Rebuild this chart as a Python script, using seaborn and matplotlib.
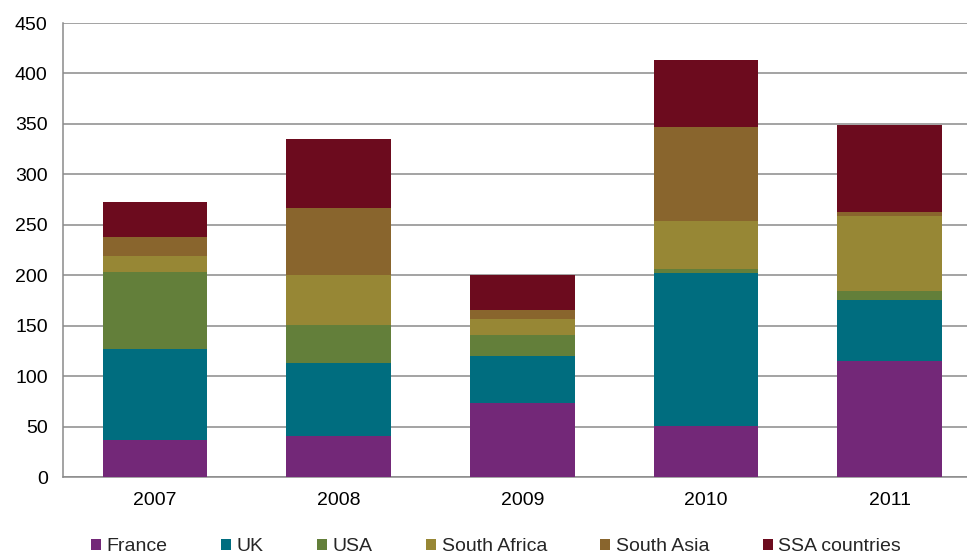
import numpy as np
import pandas as pd
import matplotlib
matplotlib.use("Agg")
import matplotlib.pyplot as plt
from matplotlib.patches import Patch
import seaborn as sns

years = ["2007", "2008", "2009", "2010", "2011"]
series = ["France", "UK", "USA", "South Africa", "South Asia", "SSA countries"]
france = [37, 41, 73, 51, 115]
uk = [90, 72, 47, 151, 60]
usa = [76, 38, 21, 4, 9]
south_africa = [16, 49, 16, 48, 75]
south_asia = [19, 67, 9, 93, 4]
ssa = [35, 68, 34, 66, 86]
colors = ["#732878", "#006D7F", "#637F3A", "#978735", "#89652D", "#6C0B1E"]

sns.set_style("white")
plt.rcParams["font.family"] = ["Liberation Sans", "DejaVu Sans"]

values = np.array([france, uk, usa, south_africa, south_asia, ssa])
cum = values.cumsum(axis=0)
df = pd.DataFrame(cum.T, columns=series)
df["year"] = years

fig = plt.figure(figsize=(9.67, 5.54), dpi=100)
ax = fig.add_axes([63 / 967, 1 - 477 / 554, (967 - 63) / 967, (477 - 23) / 554])

# layered cumulative bars, tallest first
for name, col in reversed(list(zip(series, colors))):
    sns.barplot(data=df, x="year", y=name, color=col, width=0.57,
                saturation=1, ax=ax, zorder=3, edgecolor="none", linewidth=0)

ax.set_ylim(0, 450)
ax.set_xlim(-0.5, 4.42)
ax.set_yticks(range(0, 451, 50))
ax.yaxis.grid(True, color="#8a8a8a", linewidth=1.1, zorder=0)
ax.set_axisbelow(True)
ax.set_xlabel("")
ax.set_ylabel("")
for s in ["top", "right"]:
    ax.spines[s].set_visible(False)
for s in ["left", "bottom"]:
    ax.spines[s].set_color("#8a8a8a")
    ax.spines[s].set_linewidth(1.1)
ax.tick_params(axis="both", length=0, labelsize=14, colors="black")
ax.tick_params(axis="y", pad=11)
ax.tick_params(axis="x", pad=11)

handles = [Patch(facecolor=c, edgecolor="none", label=n) for n, c in zip(series, colors)]
fig.legend(handles=handles, loc="center", bbox_to_anchor=(0.513, 0.013),
           ncol=6, frameon=False, fontsize=14, handlelength=0.5,
           handleheight=0.5, handletextpad=0.3, columnspacing=2.75)

fig.savefig("out.png", dpi=100)
